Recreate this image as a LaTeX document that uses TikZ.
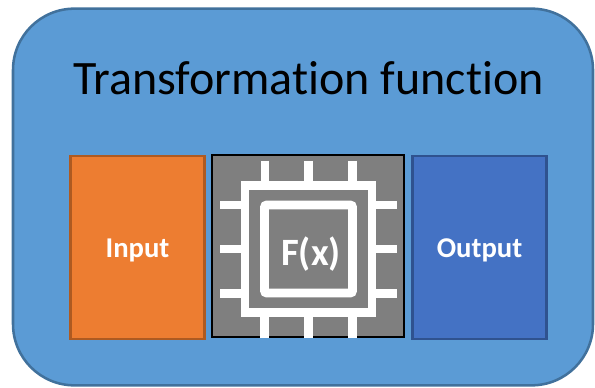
\documentclass[tikz,border=0pt]{standalone}
\usepackage{fontspec}
\setmainfont[RawFeature={-liga;-clig;-dlig;-calt}]{Carlito}
\definecolor{outerfill}{HTML}{5B9BD5}
\definecolor{outerline}{HTML}{41719C}
\definecolor{inputfill}{HTML}{ED7D31}
\definecolor{inputline}{HTML}{AE5A21}
\definecolor{outputfill}{HTML}{4472C4}
\definecolor{outputline}{HTML}{2F528F}
\definecolor{chipfill}{HTML}{7F7F7F}
\tikzset{
  px/.style={x=0.75pt,y=-0.75pt},
  panel/.style={rectangle,draw=outerline,fill=outerfill,line width=1.9pt,rounded corners=46pt,minimum width=435pt,minimum height=282.5pt,inner sep=0pt},
  box/.style={rectangle,line width=1.9pt,minimum width=100.5pt,minimum height=137.5pt,inner sep=0pt,text=white},
  boxlabel/.style={text=white,inner sep=0pt,font=\bfseries\fontsize{21.5}{24}\selectfont},
  chipbox/.style={rectangle,draw=black,fill=chipfill,line width=1.6pt,minimum width=144pt,minimum height=137pt,inner sep=0pt},
  chipring/.style={rectangle,draw=white,line width=6.4pt,minimum width=95pt,minimum height=95pt,inner sep=0pt},
  chipcore/.style={rectangle,draw=white,line width=6.4pt,rounded corners=1.5pt,minimum width=66pt,minimum height=66pt,inner sep=0pt,text=white},
  pin/.style={draw=white,line width=6.4pt},
}
\begin{document}
\begin{tikzpicture}[px]
\useasboundingbox (0,0) rectangle (595,388);
\node[panel] (panel) at (303,197) {};
\node[font=\fontsize{36}{40}\selectfont,text=black,inner sep=0pt] (title) at (308.5,78) {Transformation function};
\node[box,draw=inputline,fill=inputfill] (input) at (137.5,247.5) {};
\node[boxlabel] (inputlabel) at (137.5,250.5) {Input};
\node[box,draw=outputline,fill=outputfill] (output) at (479.5,247.5) {};
\node[boxlabel] (outputlabel) at (479.5,250.5) {Output};
\node[chipbox] (chip) at (308,246) {};
\coordinate (t1) at (265,161); \coordinate (t1e) at (265,185);
\coordinate (t2) at (308.5,161); \coordinate (t2e) at (308.5,185);
\coordinate (t3) at (352.5,161); \coordinate (t3e) at (352.5,185);
\coordinate (b1) at (264.5,338); \coordinate (b1e) at (264.5,313);
\coordinate (b2) at (308.5,338); \coordinate (b2e) at (308.5,313);
\coordinate (b3) at (352.5,338); \coordinate (b3e) at (352.5,313);
\coordinate (l1) at (220,205); \coordinate (l1e) at (245,205);
\coordinate (l2) at (220,249); \coordinate (l2e) at (245,249);
\coordinate (l3) at (220,293.3); \coordinate (l3e) at (245,293.3);
\coordinate (r1) at (396.7,205); \coordinate (r1e) at (372,205);
\coordinate (r2) at (396.7,249); \coordinate (r2e) at (372,249);
\coordinate (r3) at (396.7,293.3); \coordinate (r3e) at (372,293.3);
\foreach \a in {t1,t2,t3,b1,b2,b3,l1,l2,l3,r1,r2,r3}{\draw[pin] (\a) -- (\a e);}
\node[chipring] (ring) at (308.5,249) {};
\node[chipcore] (core) at (308.5,249) {};
\node[text=white,font=\bfseries\fontsize{29}{31}\selectfont,inner sep=0pt] (fx) at (311,254) {F(x)};
\end{tikzpicture}
\end{document}
